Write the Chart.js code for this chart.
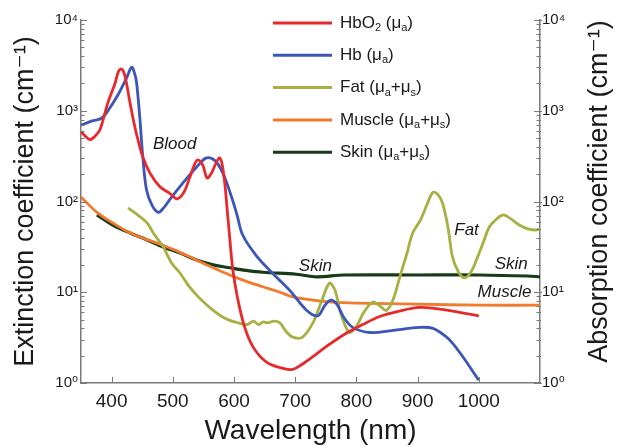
<!DOCTYPE html>
<html><head><meta charset="utf-8">
<script src="https://cdn.jsdelivr.net/npm/chart.js@4.4.1/dist/chart.umd.min.js"></script>
<style>html,body{margin:0;padding:0;background:#fff}#wrap{width:623px;height:448px}</style>
</head><body><div id="wrap"><canvas id="c" width="623" height="448"></canvas></div>
<script>
// ---- data (wavelength in nm, values in cm^-1) ----
const hbo2Wavelength = [350,357,365,373,381,388,394,400,406,411,415,419,423,430,438,445,451,463,479,495,507,518,528,535,541,549,556,563,569,576,580,585,589,593,598,606,617,631,653,680,696,712,729,750,784,810,838,870,903,930,950,975,1000];
const hbo2Value = [589,525,479,525,617,891,1230,1585,2042,2692,2884,2754,2239,1230,661,427,309,204,145,123,107,126,186,251,288,251,182,204,251,302,269,158,79,40,17.8,8.5,4.2,2.5,1.7,1.45,1.41,1.62,1.95,2.5,3.55,4.4,5.4,6.2,6.8,6.6,6.3,5.9,5.5];

const hbWavelength = [350,365,384,397,410,417,425,433,438,441,446,451,457,466,476,485,495,516,539,555,569,582,596,605,614,637,663,691,719,737,748,758,768,780,794,822,860,903,925,945,957,975,990,1000];
const hbValue = [692,759,832,1072,1479,1820,2344,3020,2512,1995,851,309,135,91,76,85,105,158,240,302,282,204,112,71,43,25,16.2,10.5,6.3,5.5,7.1,8.2,7.4,5.2,4.1,3.6,3.8,4.1,4.0,3.3,2.75,1.9,1.35,1.07];

const fatWavelength = [427,445,458,470,484,498,512,525,539,552,566,580,593,607,621,632,640,647,655,665,675,685,696,712,729,742,756,765,773,781,789,800,812,827,838,849,860,871,882,892,905,916,925,933,941,950,957,967,977,987,996,1007,1017,1028,1039,1050,1066,1080,1094,1100];
const fatValue = [85,69,58,43,32,21,16.2,12,9.3,7.6,6.3,5.4,4.9,4.6,4.4,4.8,4.4,4.7,4.6,4.8,4.6,3.7,3.2,3.2,4.6,7.6,12.6,10.5,6.3,4.4,3.6,4.2,6.0,7.8,7.1,6.3,8.3,14.8,26,45,63,95,126,120,95,50,24.5,16.6,14.4,16.6,22.6,35,52,63,71,66,55,50,48.5,50];

const muscleWavelength = [350,376,402,430,458,484,512,539,566,593,620,647,675,696,729,760,800,900,1000,1100];
const muscleValue = [112,76,58,45,38,33,27.5,22.6,18.6,15.5,13.2,11.5,10,8.9,8.2,7.8,7.6,7.4,7.2,7.2];

const skinWavelength = [376,402,430,458,484,512,539,566,593,620,647,702,735,780,900,1000,1080,1100];
const skinValue = [71,55,45,37.7,31.6,27,22.6,20,18.6,17.4,16.6,15.8,14.8,15.5,15.5,15.5,15.1,14.8];

const seriesLabels = ['HbO₂ (μₐ)','Hb (μₐ)','Fat (μₐ+μₛ)','Muscle (μₐ+μₛ)','Skin (μₐ+μₛ)'];
const seriesColors = ['#e8292b','#3b55b8','#a6b043','#f07b2d','#173a17'];

const xTicks = [400,500,600,700,800,900,1000];
const yTicks = [1,10,100,1000,10000];
const yTickLabels = ['10⁰','10¹','10²','10³','10⁴'];

const xTitle = 'Wavelength (nm)';
const yLeftTitle = 'Extinction coefficient (cm⁻¹)';
const yRightTitle = 'Absorption coefficient (cm⁻¹)';

const annotationText = ['Blood','Skin','Fat','Skin','Muscle'];
const annotationWavelength = [503,733,980,1053,1042];
const annotationValue = [430,19.5,48.5,20.5,10];

// ---- build ----
const pts = (xs, ys) => xs.map((x, i) => ({x, y: ys[i]}));
const seriesData = [pts(hbo2Wavelength,hbo2Value), pts(hbWavelength,hbValue), pts(fatWavelength,fatValue), pts(muscleWavelength,muscleValue), pts(skinWavelength,skinValue)];

const FONT = '"Liberation Sans", Arial, "DejaVu Sans", sans-serif';
const AXIS_COLOR = '#7a7a7a';
const TEXT_COLOR = '#1a1a1a';

const tickPlugin = {
  id: 'innerTicks',
  afterDraw(chart) {
    const {ctx, chartArea} = chart;
    const yl = chart.scales.y, yr = chart.scales.y2, x = chart.scales.x;
    ctx.save();
    ctx.strokeStyle = AXIS_COLOR;
    ctx.lineWidth = 1;
    for (let d = 0; d < 4; d++) {
      for (let k = 1; k <= 9; k++) {
        const v = k * Math.pow(10, d);
        const len = k === 1 ? 6 : 3.5;
        const py = Math.round(yl.getPixelForValue(v)) + 0.5;
        ctx.beginPath(); ctx.moveTo(chartArea.left, py); ctx.lineTo(chartArea.left + len, py); ctx.stroke();
        const pr = Math.round(yr.getPixelForValue(v)) + 0.5;
        ctx.beginPath(); ctx.moveTo(chartArea.right - len, pr); ctx.lineTo(chartArea.right + (k===1?2:1), pr); ctx.stroke();
      }
    }
    const pTop = Math.round(yl.getPixelForValue(10000)) + 0.5;
    ctx.beginPath(); ctx.moveTo(chartArea.left, pTop); ctx.lineTo(chartArea.left + 6, pTop); ctx.stroke();
    ctx.beginPath(); ctx.moveTo(chartArea.right - 6, pTop); ctx.lineTo(chartArea.right + 2, pTop); ctx.stroke();
    xTicks.forEach(t => {
      const px = Math.round(x.getPixelForValue(t)) + 0.5;
      ctx.beginPath(); ctx.moveTo(px, chartArea.bottom); ctx.lineTo(px, chartArea.bottom - 6); ctx.stroke();
    });
    ctx.restore();
  }
};

// right-axis title reads bottom-to-top, as in the reference
const rightTitlePlugin = {
  id: 'rightTitle',
  afterDraw(chart) {
    const {ctx, chartArea} = chart;
    ctx.save();
    ctx.translate(600, (chartArea.top + chartArea.bottom) / 2 - 10);
    ctx.rotate(-Math.PI / 2);
    ctx.font = `27px ${FONT}`;
    ctx.fillStyle = TEXT_COLOR;
    ctx.textAlign = 'center';
    ctx.textBaseline = 'middle';
    ctx.fillText(yRightTitle, 0, 0);
    ctx.restore();
  }
};

function drawRich(ctx, text, x, y, size) {
  const subMap = {'₂':'2','ₐ':'a','ₛ':'s'};
  let cx = x;
  for (const ch of text) {
    if (subMap[ch]) {
      ctx.font = `${Math.round(size*0.62)}px ${FONT}`;
      ctx.fillText(subMap[ch], cx, y + size*0.3);
      cx += ctx.measureText(subMap[ch]).width;
    } else {
      ctx.font = `${size}px ${FONT}`;
      ctx.fillText(ch, cx, y);
      cx += ctx.measureText(ch).width;
    }
  }
}

const legendPlugin = {
  id: 'richLegend',
  afterDraw(chart) {
    const {ctx} = chart;
    ctx.save();
    ctx.textBaseline = 'middle';
    ctx.textAlign = 'left';
    chart.data.datasets.forEach((ds, i) => {
      const y = 23 + i * 32.3;
      ctx.strokeStyle = ds.borderColor;
      ctx.lineWidth = 3;
      ctx.beginPath(); ctx.moveTo(273, y); ctx.lineTo(332, y); ctx.stroke();
      ctx.fillStyle = TEXT_COLOR;
      drawRich(ctx, ds.label, 340, y, 17);
    });
    ctx.restore();
  }
};

const annotationPlugin = {
  id: 'curveNames',
  afterDatasetsDraw(chart) {
    const {ctx} = chart;
    const x = chart.scales.x, y = chart.scales.y;
    ctx.save();
    ctx.font = `italic 17px ${FONT}`;
    ctx.fillStyle = TEXT_COLOR;
    ctx.textAlign = 'center';
    ctx.textBaseline = 'middle';
    annotationText.forEach((t, i) => {
      ctx.fillText(t, x.getPixelForValue(annotationWavelength[i]), y.getPixelForValue(annotationValue[i]));
    });
    ctx.restore();
  }
};

const yAxisBase = {
  type: 'logarithmic',
  min: 1, max: 10000,
  grid: {display: false, drawTicks: false},
  border: {display: true, color: AXIS_COLOR, width: 1.5},
  afterBuildTicks: s => { s.ticks = yTicks.map(v => ({value: v, major: true})); },
  ticks: {
    autoSkip: false,
    padding: 3,
    color: TEXT_COLOR,
    font: {family: FONT, size: 15},
    callback: (v) => { const i = yTicks.indexOf(v); return i >= 0 ? yTickLabels[i] : ''; }
  }
};

new Chart(document.getElementById('c'), {
  type: 'line',
  data: {
    datasets: seriesData.map((d, i) => ({
      label: seriesLabels[i],
      data: d,
      borderColor: seriesColors[i],
      backgroundColor: seriesColors[i],
      borderWidth: i === 4 ? 3.2 : 2.8,
      pointRadius: 0,
      tension: 0.35,
      fill: false,
      yAxisID: 'y'
    }))
  },
  options: {
    responsive: false,
    animation: false,
    devicePixelRatio: 1,
    layout: {padding: {top: 20, left: 0, right: 0, bottom: 0}},
    plugins: {legend: {display: false}, tooltip: {enabled: false}},
    scales: {
      x: {
        type: 'linear', min: 350, max: 1100,
        grid: {display: false, drawTicks: false},
        border: {display: true, color: AXIS_COLOR, width: 1.5},
        afterBuildTicks: s => { s.ticks = xTicks.map(v => ({value: v})); },
        afterFit: s => { s.height = 65; },
        ticks: {autoSkip: false, maxRotation: 0, padding: 7, color: TEXT_COLOR, font: {family: FONT, size: 19}, callback: v => String(v)},
        title: {display: true, text: xTitle, color: TEXT_COLOR, font: {family: FONT, size: 28}, padding: {top: 0, bottom: 0}}
      },
      y: Object.assign({}, yAxisBase, {
        position: 'left',
        afterFit: s => { s.width = 81; },
        title: {display: true, text: yLeftTitle, color: TEXT_COLOR, font: {family: FONT, size: 27}, padding: {top: 9, bottom: 0}}
      }),
      y2: Object.assign({}, yAxisBase, {
        position: 'right',
        afterFit: s => { s.width = 83; },
        ticks: Object.assign({}, yAxisBase.ticks, {padding: 2}),
        title: {display: false, text: yRightTitle}
      })
    }
  },
  plugins: [tickPlugin, annotationPlugin, legendPlugin, rightTitlePlugin]
});
</script>
</body></html>
